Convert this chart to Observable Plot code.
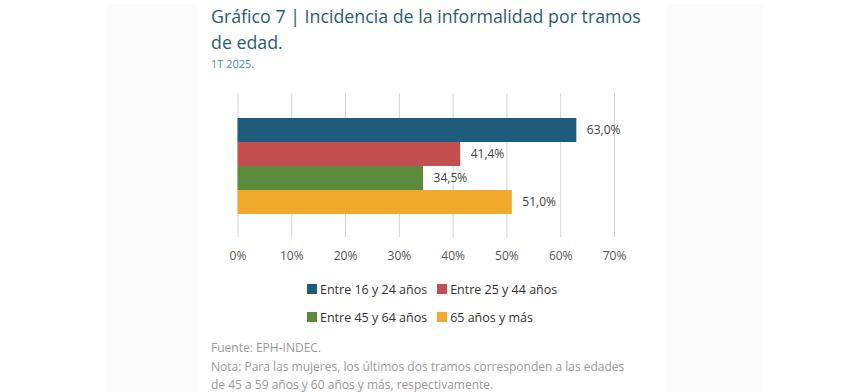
<!DOCTYPE html>
<html>
<head>
<meta charset="utf-8">
<script src="https://cdn.jsdelivr.net/npm/d3@7"></script>
<script src="https://cdn.jsdelivr.net/npm/@observablehq/plot@0.6"></script>
<style>
  html, body { margin: 0; padding: 0; background: #ffffff; }
  body { width: 866px; height: 392px; position: relative; overflow: hidden; font-family: "Open Sans", "Noto Sans", sans-serif; }
  .side { position: absolute; top: 4px; height: 392px; background: #fbfbfb; filter: blur(1px); }
  #title { position: absolute; left: 211px; top: 3px; width: 440px; font-size: 17.8px; line-height: 26px; color: #2c5d72; }
  #subtitle { position: absolute; left: 211px; top: 56px; font-size: 11px; color: #4f8fa9; }
  #chart { position: absolute; left: 0; top: 85px; }
  #legend { position: absolute; left: 307px; top: 280px; font-size: 12.5px; color: #333; }
  .row { display: flex; align-items: center; height: 18px; margin-bottom: 10px; }
  .item { display: flex; align-items: center; margin-right: 10px; }
  .sw { width: 10px; height: 10px; margin-right: 3px; }
  #footer { position: absolute; left: 211px; top: 339px; font-size: 12px; line-height: 18.5px; color: #9a9a9a; }
</style>
</head>
<body>
<div class="side" style="left:106px;width:92px;"></div>
<div class="side" style="left:666px;width:96px;"></div>
<div id="title"></div>
<div id="subtitle"></div>
<div id="chart"></div>
<div id="legend"></div>
<div id="footer"></div>
<script>
const titleText = "Gráfico 7 | Incidencia de la informalidad por tramos de edad.";
const subtitleText = "1T 2025.";
const categories = ["Entre 16 y 24 años", "Entre 25 y 44 años", "Entre 45 y 64 años", "65 años y más"];
const values = [63.0, 41.4, 34.5, 51.0];
const colors = ["#1f5c7b", "#c14f4f", "#5b8a3a", "#f0a92a"];
const xTicks = [0, 10, 20, 30, 40, 50, 60, 70];
const legendRows = [[0, 1], [2, 3]];
const footerLines = [
  "Fuente: EPH-INDEC.",
  "Nota: Para las mujeres, los últimos dos tramos corresponden a las edades",
  "de 45 a 59 años y 60 años y más, respectivamente."
];

document.getElementById("title").textContent = titleText;
document.getElementById("subtitle").textContent = subtitleText;
document.getElementById("footer").innerHTML = footerLines.map(l => `<div>${l}</div>`).join("");

const data = categories.map((c, i) => ({category: c, value: values[i]}));
const fmt = v => v.toFixed(1).replace(".", ",") + "%";

const chart = Plot.plot({
  width: 866,
  height: 185,
  marginLeft: 237.5,
  marginRight: 252,
  marginTop: 8,
  marginBottom: 33,
  style: {fontFamily: "'Open Sans', sans-serif", fontSize: "12px", color: "#555", background: "transparent"},
  x: {domain: [0, 70], ticks: xTicks, tickFormat: d => d + "%", label: null},
  y: {domain: categories, range: [32, 129], padding: 0, axis: null, label: null},
  color: {domain: categories, range: colors},
  marks: [
    Plot.gridX(xTicks, {stroke: "#d4d4d4", strokeOpacity: 1, strokeWidth: 1}),
    Plot.axisX({ticks: xTicks, tickFormat: d => d + "%", tickSize: 0, tickPadding: 14, fill: "#555", fontSize: 12, label: null}),
    Plot.barX(data, {x: "value", y: "category", fill: "category"}),
    Plot.text(data, {x: "value", y: "category", text: d => fmt(d.value), textAnchor: "start", dx: 10, fill: "#444", fontSize: 12})
  ]
});
document.getElementById("chart").appendChild(chart);

const legend = document.getElementById("legend");
legendRows.forEach(r => {
  const row = document.createElement("div");
  row.className = "row";
  r.forEach(i => {
    const it = document.createElement("div");
    it.className = "item";
    it.innerHTML = `<span class="sw" style="background:${colors[i]}"></span><span>${categories[i]}</span>`;
    row.appendChild(it);
  });
  legend.appendChild(row);
});
</script>
</body>
</html>
